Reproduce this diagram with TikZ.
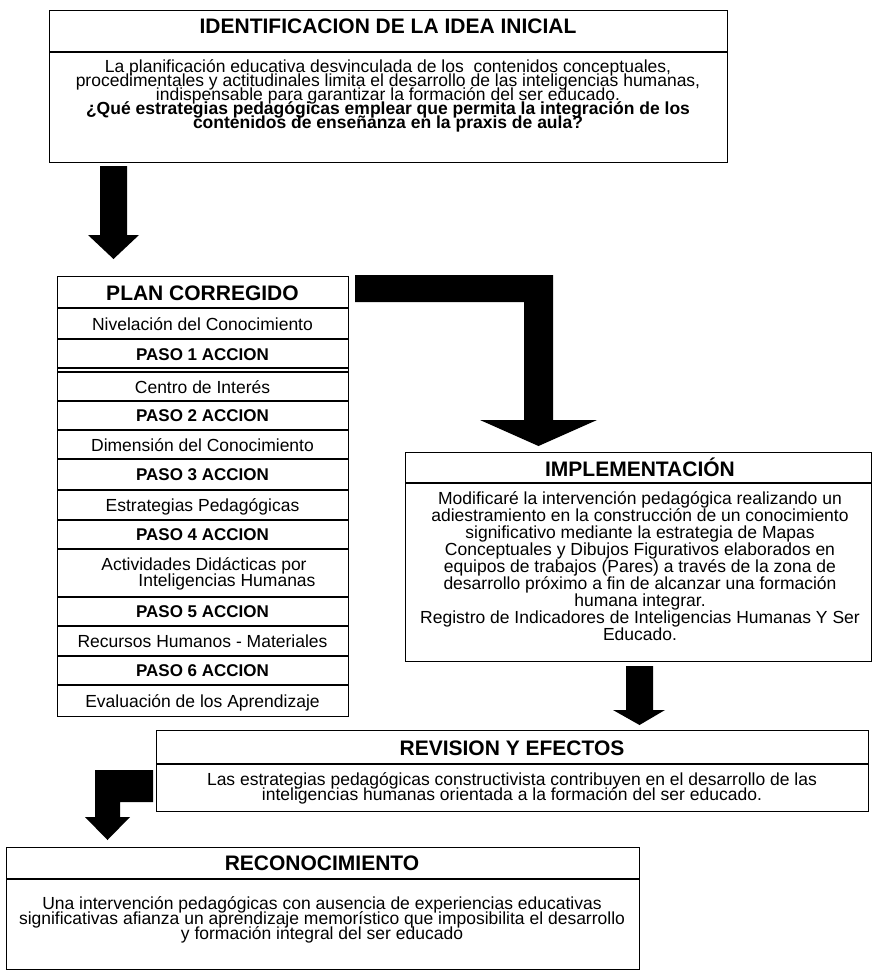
\documentclass[tikz,border=0pt]{standalone}
\usepackage{fontspec}
\setmainfont{Liberation Sans}
\begin{document}
\begin{tikzpicture}[x=1pt,y=-1pt,
  box/.style={draw, line width=1.3pt, inner sep=0pt, anchor=north west},
  sep/.style={line width=1.3pt},
  hdr/.style={font=\fontsize{21}{22}\selectfont\bfseries, inner sep=0pt, anchor=base},
  txt/.style={font=\fontsize{17.5}{17}\selectfont, inner sep=0pt, anchor=base},
  txtb/.style={font=\fontsize{17.5}{17}\selectfont\bfseries, inner sep=0pt, anchor=base},
  rowb/.style={font=\fontsize{17}{17}\selectfont\bfseries, inner sep=0pt, anchor=base},
  blk/.style={fill=black}]
\useasboundingbox (0,0) rectangle (873,970);

% ---------- IDENTIFICACION box
\node[box, minimum width=678pt, minimum height=152pt] (idea) at (49,10) {};
\draw[sep] (49,52) -- (727,52);
\node[hdr] (ideat) at (388,33) {IDENTIFICACION DE LA IDEA INICIAL};
\node[txt] (ideal1) at (388,72) {La planificación educativa desvinculada de los\ \ contenidos conceptuales,};
\node[txt] (ideal2) at (388,86) {procedimentales y actitudinales limita el desarrollo de las inteligencias humanas,};
\node[txt] (ideal3) at (388,100) {indispensable para garantizar la formación del ser educado.};
\node[txtb] (ideal4) at (388,114) {¿Qué estrategias pedagógicas emplear que permita la integración de los};
\node[txtb] (ideal5) at (388,128) {contenidos de enseñanza en la praxis de aula?};

% ---------- arrow idea -> plan
\fill[blk] (100,166) -- (127,166) -- (127,235) -- (139,235) -- (113.5,259) -- (88,235) -- (100,235) -- cycle;

% ---------- PLAN CORREGIDO
\node[box, minimum width=291pt, minimum height=440pt] (plan) at (57,276) {};
\foreach \yy in {308,339,368,372,401,430,459,490,520,549,597,626,656,685}
  \draw[sep] (57,\yy) -- (348,\yy);
\node[hdr] (plant) at (202.5,300) {PLAN CORREGIDO};
\node[txt] (p1) at (202.5,330) {Nivelación del Conocimiento};
\node[rowb] (p2) at (202.5,360) {PASO 1 ACCION};
\node[txt] (p3) at (202.5,393) {Centro de Interés};
\node[rowb] (p4) at (202.5,421.5) {PASO 2 ACCION};
\node[txt] (p5) at (202.5,451) {Dimensión del Conocimiento};
\node[rowb] (p6) at (202.5,480.5) {PASO 3 ACCION};
\node[txt] (p7) at (202.5,511) {Estrategias Pedagógicas};
\node[rowb] (p8) at (202.5,540.5) {PASO 4 ACCION};
\node[txt] (p9) at (204,570) {Actividades Didácticas por};
\node[txt] (p10) at (227,586) {Inteligencias Humanas};
\node[rowb] (p11) at (202.5,617.5) {PASO 5 ACCION};
\node[txt] (p12) at (202.5,647) {Recursos Humanos - Materiales};
\node[rowb] (p13) at (202.5,676.5) {PASO 6 ACCION};
\node[txt] (p14) at (202.5,707) {Evaluación de los Aprendizaje};

% ---------- bent arrow plan -> implementacion
\fill[blk] (355,275) -- (553,275) -- (553,420) -- (597,420) -- (538.5,446) -- (480,420) -- (524,420) -- (524,302) -- (355,302) -- cycle;

% ---------- IMPLEMENTACION
\node[box, minimum width=466pt, minimum height=209pt] (impl) at (405,452) {};
\draw[sep] (405,483) -- (871,483);
\node[hdr] (implt) at (640,476) {IMPLEMENTACIÓN};
\node[txt] (i1) at (640,504) {Modificaré la intervención pedagógica realizando un};
\node[txt] (i2) at (640,521) {adiestramiento en la construcción de un conocimiento};
\node[txt] (i3) at (640,538) {significativo mediante la estrategia de Mapas};
\node[txt] (i4) at (640,555) {Conceptuales y Dibujos Figurativos elaborados en};
\node[txt] (i5) at (640,572) {equipos de trabajos (Pares) a través de la zona de};
\node[txt] (i6) at (640,589) {desarrollo próximo a fin de alcanzar una formación};
\node[txt] (i7) at (640,606) {humana integrar.};
\node[txt] (i8) at (640,623) {Registro de Indicadores de Inteligencias Humanas Y Ser};
\node[txt] (i9) at (640,640) {Educado.};

% ---------- arrow impl -> revision
\fill[blk] (626,666) -- (653,666) -- (653,710) -- (665,710) -- (639.5,725) -- (613,710) -- (626,710) -- cycle;

% ---------- REVISION Y EFECTOS
\node[box, minimum width=712pt, minimum height=81pt] (rev) at (156,730) {};
\draw[sep] (156,764) -- (868,764);
\node[hdr] (revt) at (512,755) {REVISION Y EFECTOS};
\node[txt] (r1) at (512,785) {Las estrategias pedagógicas constructivista contribuyen en el desarrollo de las};
\node[txt] (r2) at (512,800) {inteligencias humanas orientada a la formación del ser educado.};

% ---------- L arrow revision -> reconocimiento
\fill[blk] (153,770) -- (153,802) -- (120,802) -- (120,817) -- (130,817) -- (107.5,840) -- (85,817) -- (95,817) -- (95,770) -- cycle;

% ---------- RECONOCIMIENTO
\node[box, minimum width=633pt, minimum height=122pt] (rec) at (6,847) {};
\draw[sep] (6,879) -- (639,879);
\node[hdr] (rect) at (322,870.5) {RECONOCIMIENTO};
\node[txt] (c1) at (322,909) {Una intervención pedagógicas con ausencia de experiencias educativas};
\node[txt] (c2) at (322,924) {significativas afianza un aprendizaje memorístico que imposibilita el desarrollo};
\node[txt] (c3) at (322,939) {y formación integral del ser educado};
\end{tikzpicture}
\end{document}
